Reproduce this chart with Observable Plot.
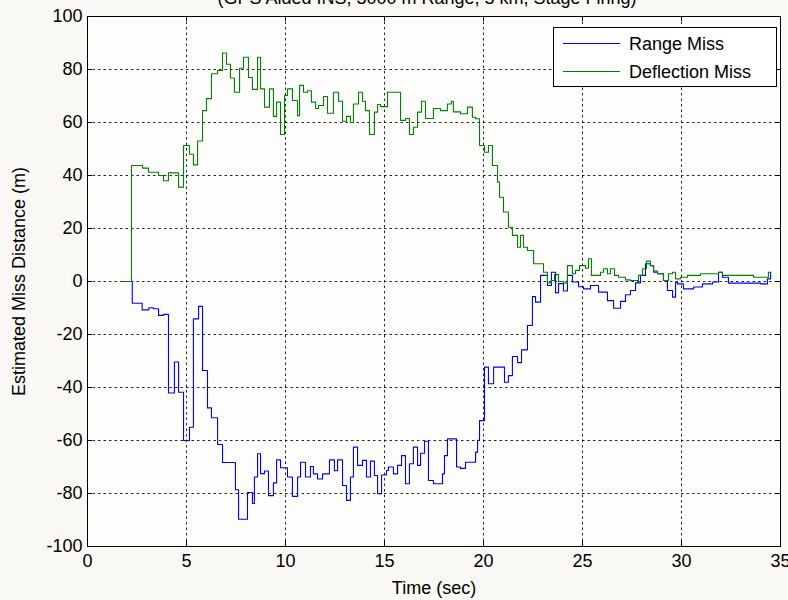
<!DOCTYPE html>
<html>
<head>
<meta charset="utf-8">
<script src="https://cdn.jsdelivr.net/npm/d3@7"></script>
<script src="https://cdn.jsdelivr.net/npm/@observablehq/plot@0.6"></script>
<style>
  html, body { margin: 0; padding: 0; background: #f9f8f4; overflow: hidden; }
  #wrap { position: relative; width: 788px; height: 600px; font-family: "Liberation Sans", Arial, sans-serif; }
  #title { position: absolute; top: -11px; left: 0; width: 854px; text-align: center; font-size: 18px; line-height: 18px; color: #000; white-space: nowrap; }
  #legend { position: absolute; left: 553px; top: 27px; width: 222px; height: 58px; border: 1px solid #000; background: #fff; font-size: 18px; }
  .lrow { position: absolute; left: 0; height: 20px; width: 222px; }
  .lline { position: absolute; left: 9px; width: 57px; top: 9px; height: 0; border-top: 1px solid; }
  .ltxt { position: absolute; left: 75px; top: 0; line-height: 20px; color: #000; }
  #chart { position: absolute; left: 0; top: 0; }
</style>
</head>
<body>
<div id="wrap">
  <div id="chart"></div>
  <div id="title"></div>
  <div id="legend"></div>
</div>
<script>
// ---- data (step starts in seconds, values in metres) ----
const chartTitle = "(GPS Aided INS, 3000 m Range, 5 km, Stage Firing)";
const seriesNames = ["Range Miss", "Deflection Miss"];
const seriesColors = ["#0000ff", "#008000"];
const xTicks = [0, 5, 10, 15, 20, 25, 30, 35];
const yTicks = [-100, -80, -60, -40, -20, 0, 20, 40, 60, 80, 100];

const rangeTime = [
  1.77, 2.26, 2.76, 3.10, 3.33, 3.59, 3.84, 4.09, 4.39, 4.60,
  4.85, 5.15, 5.35, 5.61, 5.81, 6.06, 6.26, 6.57, 6.82, 7.47,
  7.63, 8.08, 8.33, 8.43, 8.59, 8.74, 8.94, 9.14, 9.39, 9.55,
  9.75, 10.10, 10.35, 10.61, 10.76, 11.01, 11.26, 11.41, 11.62, 11.87,
  12.22, 12.47, 12.63, 12.88, 13.08, 13.28, 13.43, 13.64, 13.89, 14.09,
  14.29, 14.49, 14.65, 14.85, 15.10, 15.20, 15.45, 15.66, 15.86, 16.06,
  16.26, 16.46, 16.67, 16.82, 17.02, 17.22, 17.47, 17.93, 18.03, 18.18,
  18.64, 18.84, 19.09, 19.60, 19.70, 19.80, 20.05, 20.25, 20.51, 21.06,
  21.26, 21.46, 21.72, 21.92, 22.22, 22.47, 22.63, 22.88, 23.23, 23.43,
  23.64, 23.79, 24.04, 24.24, 24.49, 24.80, 25.05, 25.40, 25.81, 26.26,
  26.57, 26.92, 27.17, 27.42, 27.68, 27.93, 28.18, 28.43, 28.59, 28.79,
  29.09, 29.29, 29.55, 29.70, 29.80, 30.10, 30.61, 31.06, 31.57, 31.87,
  32.07, 32.37, 33.99, 34.34, 34.50
];
const rangeMiss = [
  0, -8.2, -10.7, -9.9, -10.3, -12.8, -12.4, -42.1, -30.4, -41.8,
  -60, -55, -14.1, -9.4, -33.6, -47.7, -51.4, -61.5, -68.3, -78.6,
  -89.7, -79.6, -83.8, -73.8, -65, -72.5, -71.5, -80.8, -76, -67.3,
  -70.3, -73.8, -81.1, -73.8, -68.2, -73.8, -69.8, -72.6, -74.5, -72.6,
  -67.3, -71.4, -67.3, -77, -82.6, -73.8, -62.5, -69.4, -67.5, -73.8,
  -67.8, -73.2, -80.1, -73, -71.3, -70, -72.6, -69.4, -65.7, -76.3,
  -68.8, -62.5, -69.4, -64.8, -60.3, -75.1, -76.3, -72.6, -65.7, -59.4,
  -70, -70.5, -68.2, -64.4, -59.9, -52.5, -32.3, -38.6, -32.3, -38,
  -35.5, -28.3, -30.6, -25.8, -16.6, -5.7, -7.8, 2.3, -1.5, 3.5,
  -4.2, -0.8, -3.6, 2.3, -0.2, -2, -2.8, -1.5, -4, -7.2,
  -10.1, -7.5, -5, -3.4, -0.5, 2.3, 6.7, 6, 3.5, 2.9,
  0.4, -3.4, -5.9, -0.4, -0.9, -2.8, -2.1, -0.9, -0.2, 3.5,
  1.6, -0.6, -0.9, 1, 3.5
];

const deflTime = [
  1.77, 2.22, 2.78, 3.08, 3.59, 3.84, 4.09, 4.60, 4.85, 5.15,
  5.35, 5.56, 5.81, 6.01, 6.26, 6.57, 6.82, 7.02, 7.22, 7.42,
  7.68, 7.88, 8.13, 8.33, 8.59, 8.74, 8.94, 9.19, 9.39, 9.55,
  9.75, 9.95, 10.10, 10.35, 10.61, 10.71, 10.91, 11.11, 11.31, 11.52,
  11.67, 11.92, 12.12, 12.42, 12.68, 12.88, 13.08, 13.28, 13.43, 13.69,
  13.89, 14.04, 14.24, 14.49, 14.65, 14.80, 15.15, 15.81, 16.06, 16.26,
  16.46, 16.67, 16.87, 17.07, 17.47, 17.83, 18.18, 18.38, 18.48, 18.84,
  19.19, 19.44, 19.60, 19.80, 20.05, 20.25, 20.45, 20.71, 20.81, 21.01,
  21.26, 21.46, 21.72, 21.87, 22.02, 22.22, 22.53, 23.03, 23.23, 23.43,
  23.59, 23.79, 24.04, 24.24, 24.49, 24.65, 24.85, 25.15, 25.30, 25.45,
  25.91, 26.06, 26.26, 26.41, 26.62, 26.82, 27.17, 27.42, 27.83, 28.03,
  28.23, 28.43, 28.59, 28.79, 29.09, 29.34, 29.55, 29.70, 29.95, 30.30,
  30.96, 31.87, 32.07, 33.64, 34.39, 34.50
];
const deflMiss = [
  0, 43.8, 42.8, 41.2, 40, 38, 41, 35.6, 51.3, 48,
  44, 53, 64.5, 69, 78.4, 79.6, 86.2, 82, 76.8, 71.4,
  80.5, 84.6, 77, 72.5, 84.6, 72.7, 65.8, 72.7, 62.3, 67.7,
  55.5, 70.2, 72.7, 68.3, 62.6, 74, 71.4, 72, 67.7, 65.3,
  66.4, 69.8, 63.5, 71.4, 68, 60.5, 62.3, 60, 67, 71.4,
  68, 64.5, 55.5, 63.9, 66.8, 66, 71.4, 60.8, 61.5, 55.5,
  58.2, 63.9, 68, 61.5, 65.3, 64.5, 67, 68, 64, 63.3,
  65.8, 62, 61.4, 51.3, 48.8, 51.3, 43.8, 37.5, 31.8, 26.2,
  20.5, 17.4, 12.9, 17.4, 12.9, 11.7, 6.7, 3.5, -0.5, 0.4,
  2.6, 0, -0.5, 6, 2.9, 4.2, 6, 5, 8.6, 2.3,
  3.5, 4.8, 2.9, 4.8, 2.3, 1.6, 0.6, 0.4, 2.3, 4.8,
  7.7, 6, 3.9, 2.9, 0.4, 2.9, 3.5, 1, 1.6, 2.3,
  2.9, 3.5, 2.3, 1.6, 3.5, 3.5
];

// ---- build tables ----
const rangeData = rangeTime.map((t, i) => ({t, v: rangeMiss[i]}));
const deflData = deflTime.map((t, i) => ({t, v: deflMiss[i]}));

const W = 788, H = 600, mT = 16, mB = 54, mL = 87, mR = 8;
const innerW = W - mL - mR, innerH = H - mT - mB;
const font = "'Liberation Sans', Arial, sans-serif";

const chart = Plot.plot({
  width: W, height: H,
  marginTop: mT, marginBottom: mB, marginLeft: mL, marginRight: mR,
  style: {fontFamily: font, fontSize: "18px", background: "transparent", color: "#000"},
  x: {domain: [0, 35]},
  y: {domain: [-100, 100]},
  marks: [
    Plot.frame({fill: "#fdfdfc", stroke: "none"}),
    Plot.gridX(xTicks.slice(1, -1), {stroke: "#000", strokeOpacity: 0.85, strokeDasharray: "2.5,3", strokeWidth: 1}),
    Plot.gridY(yTicks.slice(1, -1), {stroke: "#000", strokeOpacity: 0.85, strokeDasharray: "2.5,3", strokeWidth: 1}),
    // inward ticks on all four sides
    Plot.tickY(yTicks, {y: d => d, stroke: "#000", insetRight: innerW - 5}),
    Plot.tickY(yTicks, {y: d => d, stroke: "#000", insetLeft: innerW - 5}),
    Plot.tickX(xTicks, {x: d => d, stroke: "#000", insetTop: innerH - 5}),
    Plot.tickX(xTicks, {x: d => d, stroke: "#000", insetBottom: innerH - 5}),
    Plot.line(rangeData, {x: "t", y: "v", curve: "step-after", stroke: seriesColors[0], strokeWidth: 1.1}),
    Plot.line(deflData, {x: "t", y: "v", curve: "step-after", stroke: seriesColors[1], strokeWidth: 1.1}),
    Plot.axisX({ticks: xTicks, tickSize: 0, tickPadding: 8, tickFormat: d => String(d),
      label: "Time (sec)", labelAnchor: "center", labelArrow: "none", labelOffset: 47, fontSize: 18}),
    Plot.axisY({ticks: yTicks, tickSize: 0, tickPadding: 5, tickFormat: d => String(d),
      label: "Estimated Miss Distance (m)", labelAnchor: "center", labelArrow: "none", labelOffset: 75, fontSize: 18}),
    Plot.frame({stroke: "#000", strokeWidth: 1})
  ]
});
document.getElementById("chart").appendChild(chart);

document.getElementById("title").textContent = chartTitle;

const legend = document.getElementById("legend");
seriesNames.forEach((name, i) => {
  const row = document.createElement("div");
  row.className = "lrow";
  row.style.top = (6 + i * 28) + "px";
  const line = document.createElement("div");
  line.className = "lline";
  line.style.borderTopColor = seriesColors[i];
  const txt = document.createElement("div");
  txt.className = "ltxt";
  txt.textContent = name;
  row.appendChild(line);
  row.appendChild(txt);
  legend.appendChild(row);
});
</script>
</body>
</html>
